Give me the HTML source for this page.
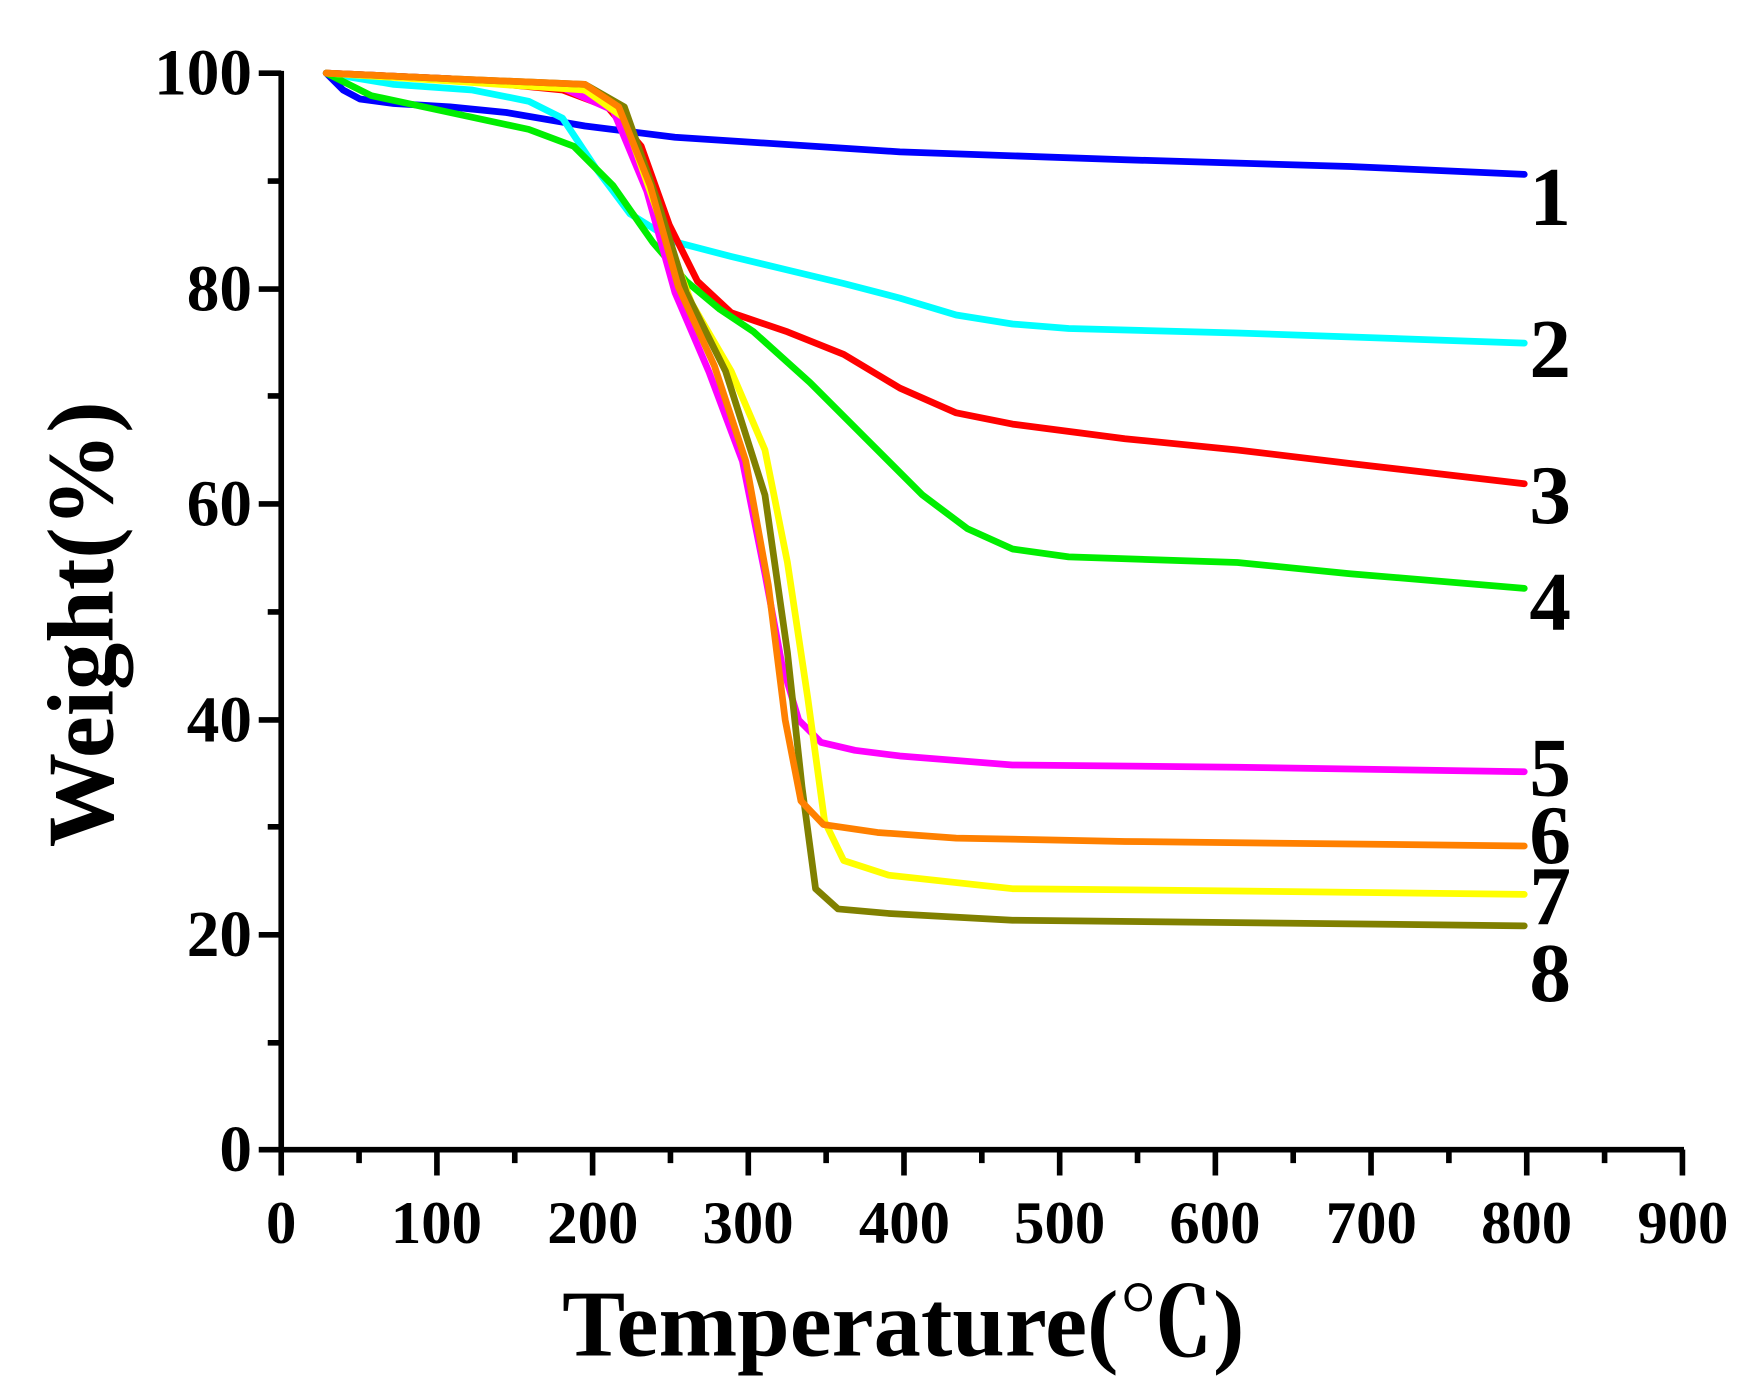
<!DOCTYPE html>
<html><head><meta charset="utf-8"><style>html,body{margin:0;padding:0;background:#fff}svg{display:block}</style></head>
<body>
<svg width="1756" height="1392" viewBox="0 0 1561 1237.4" xmlns="http://www.w3.org/2000/svg" font-family="'Liberation Serif',serif" font-weight="bold">
<rect width="1561" height="1238" fill="#fff"/>
<g fill="none" stroke-width="6" stroke-linejoin="round" stroke-linecap="round">
<polyline stroke="#0000ff" points="290,65 305,80 320,88 350,92 400,95 450,100 520,112 600,122 800,135 1000,142 1200,148 1355,155"/>
<polyline stroke="#00ffff" points="290,65 350,75 420,80 470,90 500,105 530,150 560,190 600,215 650,228 700,240 750,252 800,265 850,280 900,288 950,292 1100,296 1355,305"/>
<polyline stroke="#ff0000" points="290,65 400,70 500,80 540,95 570,130 595,200 620,250 650,278 700,295 750,315 800,345 850,367 900,377 1000,390 1100,400 1200,412 1355,430"/>
<polyline stroke="#00ee00" points="290,65 330,85 400,100 470,115 510,130 545,165 580,215 610,250 640,275 670,295 720,340 770,390 820,440 860,470 900,488 950,495 1100,500 1200,510 1355,523"/>
<polyline stroke="#ff00ff" points="290,65 400,70 500,78 545,98 575,170 600,260 630,330 660,410 680,510 695,590 710,640 730,660 760,667 800,672 900,680 1100,682 1355,686"/>
<polyline stroke="#ffff00" points="290,65 400,72 520,80 555,105 585,190 615,270 650,330 680,400 700,500 718,620 733,730 750,765 790,778 900,790 1100,792 1355,795"/>
<polyline stroke="#808000" points="290,65 400,70 520,75 555,95 585,180 610,260 645,330 680,440 700,580 713,700 725,790 745,808 790,812 900,818 1355,823"/>
<polyline stroke="#ff8000" points="290,65 400,70 520,75 550,95 578,165 603,255 635,325 663,410 683,520 698,640 712,712 732,733 780,740 850,745 1000,748 1355,752"/>
</g>
<g stroke="#000" stroke-width="5" fill="none">
<line x1="250" y1="63" x2="250" y2="1024"/>
<line x1="230" y1="1022" x2="1497" y2="1022"/>
<path d="M230,65H250M230,257H250M230,448H250M230,640H250M230,831H250M238,161H250M238,352H250M238,544H250M238,735H250M238,927H250"/>
<path d="M250,1022V1045M388.4,1022V1045M526.8,1022V1045M665.2,1022V1045M803.6,1022V1045M942,1022V1045M1080.4,1022V1045M1218.8,1022V1045M1357.2,1022V1045M1495.6,1022V1045"/>
<path d="M319.2,1022V1034M457.6,1022V1034M596,1022V1034M734.4,1022V1034M872.8,1022V1034M1011.2,1022V1034M1149.6,1022V1034M1288,1022V1034M1426.4,1022V1034"/>
</g>
<g font-size="58" fill="#000" text-anchor="end">
<text x="224" y="84">100</text><text x="224" y="276">80</text><text x="224" y="467">60</text><text x="224" y="659">40</text><text x="224" y="850">20</text><text x="224" y="1041">0</text>
</g>
<g font-size="54" fill="#000" text-anchor="middle">
<text x="250" y="1105">0</text><text x="388" y="1105">100</text><text x="527" y="1105">200</text><text x="665" y="1105">300</text><text x="804" y="1105">400</text><text x="942" y="1105">500</text><text x="1080" y="1105">600</text><text x="1219" y="1105">700</text><text x="1357" y="1105">800</text><text x="1496" y="1105">900</text>
</g>
<g font-size="74" fill="#000" text-anchor="middle">
<text x="1378" y="200">1</text><text x="1378" y="335">2</text><text x="1378" y="465">3</text><text x="1378" y="560">4</text><text x="1378" y="707">5</text><text x="1378" y="767">6</text><text x="1378" y="822">7</text><text x="1378" y="890">8</text>
</g>
<text x="803" y="1205" font-size="84" text-anchor="middle" fill="#000" font-family="'Liberation Serif','Noto Serif CJK SC',serif">Temperature(℃)</text>
<text transform="translate(100,555) rotate(-90)" font-size="84" text-anchor="middle" fill="#000">Weight(%)</text>
</svg>
</body></html>
